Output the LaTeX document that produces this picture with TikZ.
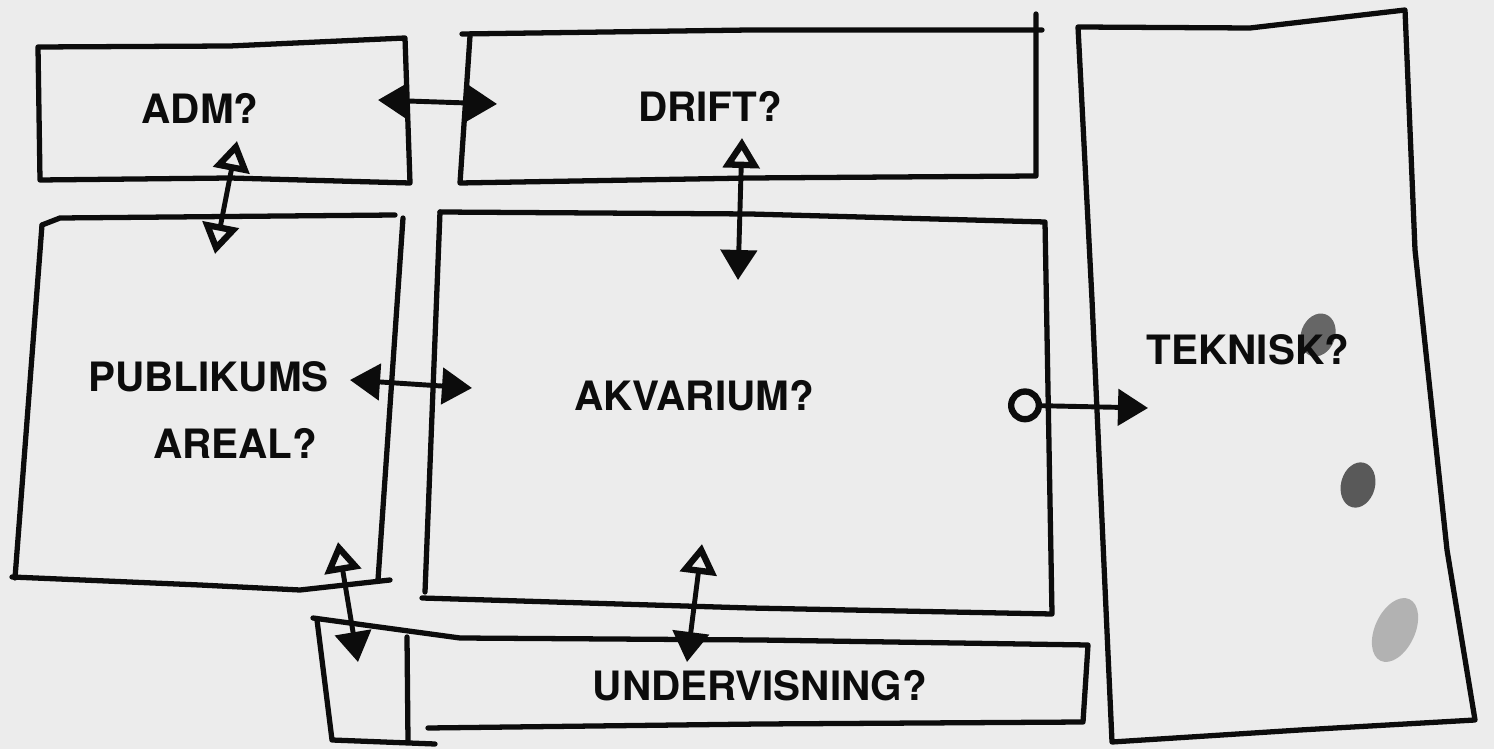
\documentclass[tikz,border=0pt]{standalone}
\usepackage{fontspec}
\setsansfont{TeX Gyre Heros}
\usetikzlibrary{arrows.meta}
\definecolor{paper}{RGB}{236,236,236}
\definecolor{ink}{RGB}{12,12,12}
\tikzset{room/.style={ % Hand drawn outline of a room
    draw=ink,
    line width=1.5pt,
    line join=round,
    line cap=round},
    roomname/.style={ % Label inside a room
    text=ink,
    font=\sffamily\bfseries\fontsize{11.5}{19}\selectfont},
    link/.style={ % Connection between two rooms
    draw=ink,
    line width=1.4pt},
    fillfill/.style={{Triangle[length=3mm,width=3.6mm]}-{Triangle[length=3mm,width=3.6mm]}},
    openopen/.style={{Triangle[open,length=3mm,width=3.6mm,line width=1.8pt]}-{Triangle[open,length=3mm,width=3.6mm,line width=1.8pt]}},
    openfill/.style={{Triangle[open,length=3mm,width=3.6mm,line width=1.8pt]}-{Triangle[length=3mm,width=3.6mm]}},
    ringfill/.style={{Circle[open,length=3.4mm,width=3.4mm,line width=1.8pt]}-{Triangle[length=3mm,width=3.6mm]}}}

\begin{document}
\begin{tikzpicture}[x=0.01cm, y=-0.01cm]
    \useasboundingbox (0,0) rectangle (1494,749);
    \fill[paper] (0,0) rectangle (1494,749);

    % Rooms
    \draw[room] (38,47) -- (230,46) -- (405,38) -- (410,183) -- (230,178) -- (40,180) -- cycle;
    \draw[room] (462,34) -- (750,30) -- (1042,30);
    \draw[room] (470,36) -- (460,183) -- (750,178) -- (1036,176) -- (1036,14);
    \draw[room] (1078,27) -- (1250,28) -- (1405,10) -- (1415,250) -- (1447,550) -- (1475,720)
        -- (1300,730) -- (1112,742) -- (1092,300) -- cycle;
    \draw[room] (42,225) -- (60,218) -- (395,215);
    \draw[room] (42,225) -- (15,578);
    \draw[room] (403,218) -- (378,580);
    \draw[room] (12,577) -- (200,585) -- (300,590) -- (390,580);
    \draw[room] (440,212) -- (750,214) -- (1045,222) -- (1052,614) -- (750,608) -- (422,598);
    \draw[room] (440,212) -- (425,592);
    \draw[room] (313,618) -- (460,638) -- (760,640) -- (1088,645) -- (1083,722) -- (760,724) -- (428,728);
    \draw[room] (317,620) -- (332,740) -- (435,744);
    \draw[room] (407,637) -- (408,742);

    % Ink smudges
    \fill[black!60, rotate around={-20:(1318,335)}] (1318,335) ellipse (17 and 22);
    \fill[black!65, rotate around={-15:(1358,485)}] (1358,485) ellipse (17 and 23);
    \fill[black!30, rotate around={-25:(1395,630)}] (1395,630) ellipse (20 and 34);

    % Names
    \node[roomname] (adm) at (200,108) {ADM?};
    \node[roomname] (drift) at (710,106) {DRIFT?};
    \node[roomname] (teknisk) at (1248,350) {TEKNISK?};
    \node[roomname, align=left, anchor=west] (publikum) at (76,410) {PUBLIKUMS\\\hspace*{1.6em}AREAL?};
    \node[roomname] (akvarium) at (694,396) {AKVARIUM?};
    \node[roomname] (undervisning) at (760,686) {UNDERVISNING?};

    % Ends of the connections
    \coordinate (adm-e) at (378,100);
    \coordinate (drift-w) at (497,104);
    \coordinate (adm-s) at (237,141);
    \coordinate (publ-n) at (215,254);
    \coordinate (drift-s) at (742,138);
    \coordinate (akv-n) at (738,280);
    \coordinate (publ-e) at (350,380);
    \coordinate (akv-w) at (472,388);
    \coordinate (akv-e) at (1008,405);
    \coordinate (tek-w) at (1148,408);
    \coordinate (publ-s) at (338,542);
    \coordinate (small-n) at (358,662);
    \coordinate (akv-s) at (702,544);
    \coordinate (und-n) at (687,662);

    % Connections
    \draw[link, fillfill] (adm-e) -- (drift-w);
    \draw[link, openopen] (adm-s) -- (publ-n);
    \draw[link, openfill] (drift-s) -- (akv-n);
    \draw[link, fillfill] (publ-e) -- (akv-w);
    \draw[link, ringfill] (akv-e) -- (tek-w);
    \draw[link, openfill] (publ-s) -- (small-n);
    \draw[link, openfill] (akv-s) -- (und-n);
\end{tikzpicture}
\end{document}
